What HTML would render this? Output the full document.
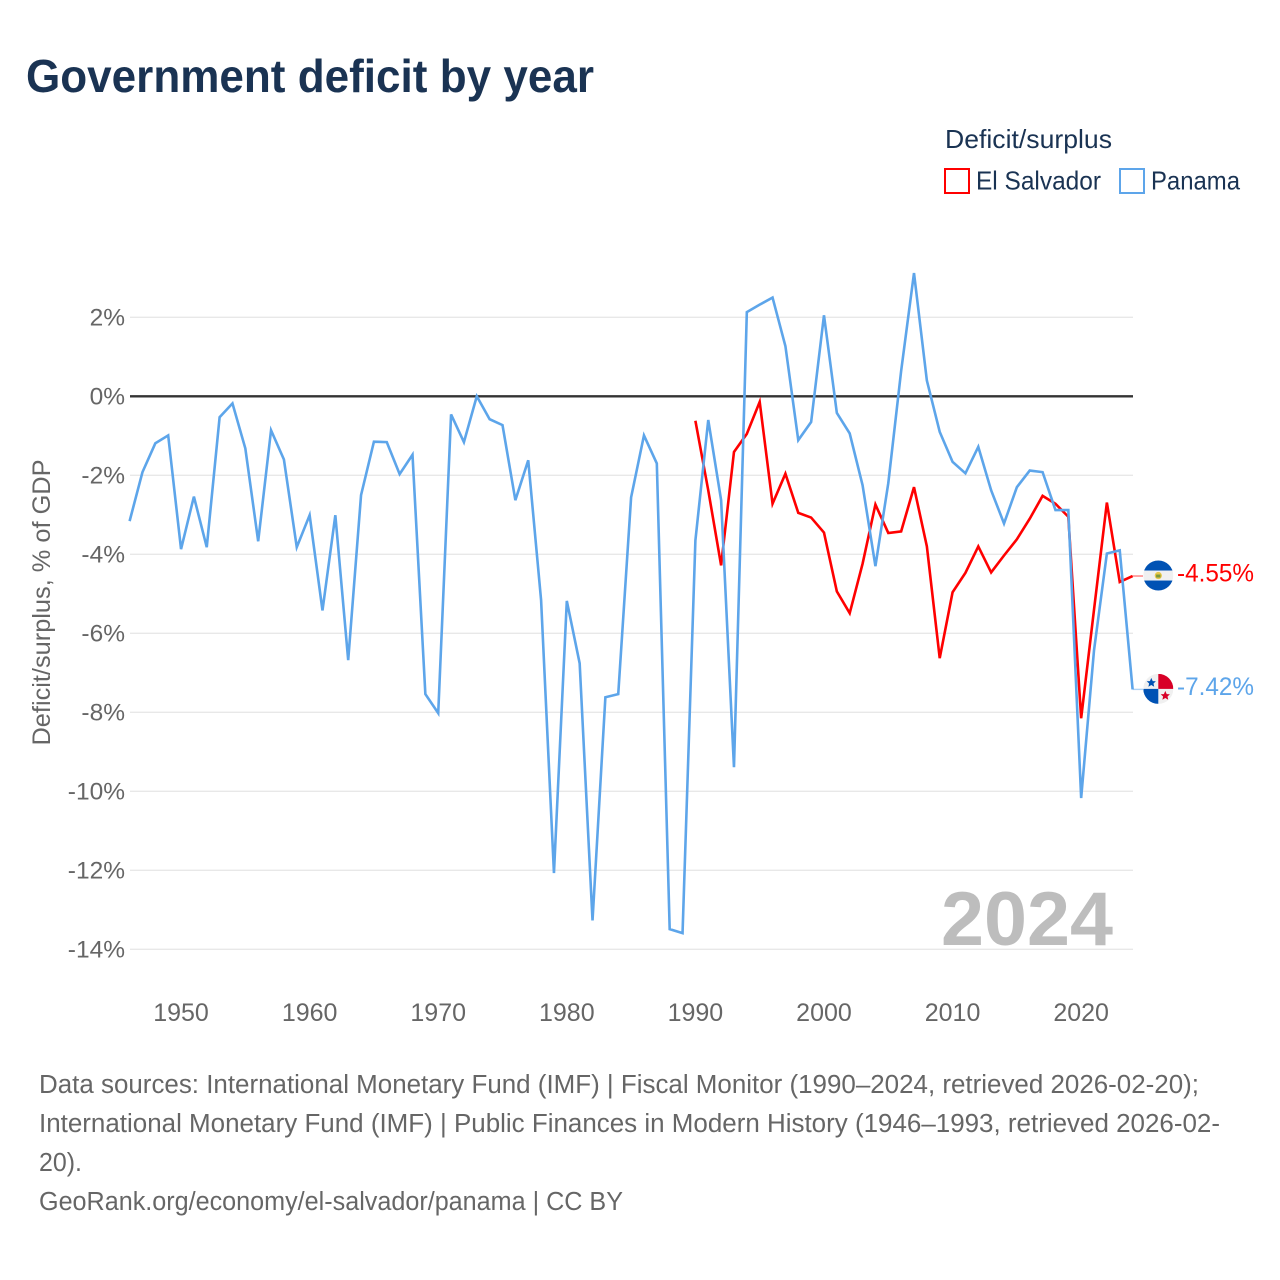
<!DOCTYPE html>
<html lang="en">
<head>
<meta charset="utf-8">
<title>Government deficit by year</title>
<style>
html,body{margin:0;padding:0;background:#fff;}
svg{display:block;font-family:"Liberation Sans",sans-serif;}
</style>
</head>
<body>
<svg id="chart" xmlns="http://www.w3.org/2000/svg" width="1280" height="1280" viewBox="0 0 1280 1280">
  <text x="26" y="92" font-size="46" font-weight="700" fill="#1a3353" textLength="568" lengthAdjust="spacingAndGlyphs">Government deficit by year</text>

  <g>
    <text x="945" y="148" font-size="26" fill="#1a3353" textLength="167" lengthAdjust="spacingAndGlyphs">Deficit/surplus</text>
    <g>
      <rect x="945" y="169" width="24" height="24" fill="#fff" stroke="#ff0000" stroke-width="2"/>
      <text x="976" y="189.5" font-size="26" fill="#1a3353" textLength="125" lengthAdjust="spacingAndGlyphs">El Salvador</text>
    </g>
    <g>
      <rect x="1120" y="169" width="24" height="24" fill="#fff" stroke="#5da5ea" stroke-width="2"/>
      <text x="1151" y="189.5" font-size="26" fill="#1a3353" textLength="89" lengthAdjust="spacingAndGlyphs">Panama</text>
    </g>
  </g>

  <text transform="translate(50,602.5) rotate(-90)" text-anchor="middle" font-size="25" fill="#666" textLength="286" lengthAdjust="spacingAndGlyphs">Deficit/surplus, % of GDP</text>

  <g id="grid"></g>
  <g id="y-ticks"></g>
  <g id="x-ticks"></g>

  <text x="941" y="945" font-size="76" font-weight="700" fill="#bdbdbd" textLength="172" lengthAdjust="spacingAndGlyphs">2024</text>

  <g id="series"></g>

  <g id="flag-sv">
    <clipPath id="clip-sv"><circle cx="0" cy="0" r="15"/></clipPath>
    <g clip-path="url(#clip-sv)">
      <rect x="-15" y="-15" width="30" height="30" fill="#f0f0f0"/>
      <rect x="-15" y="-15" width="30" height="10" fill="#0052b4"/>
      <rect x="-15" y="5" width="30" height="10" fill="#0052b4"/>
      <circle cx="0" cy="0" r="3.6" fill="#e8c84a"/>
      <rect x="-2.2" y="-1" width="4.4" height="3" fill="#7d9a3c"/>
    </g>
  </g>
  <text id="label-sv" x="1177" font-size="25" fill="#ff0000" textLength="77" lengthAdjust="spacingAndGlyphs"></text>

  <g id="flag-pa">
    <clipPath id="clip-pa"><circle cx="0" cy="0" r="15"/></clipPath>
    <g clip-path="url(#clip-pa)">
      <rect x="-15" y="-15" width="30" height="30" fill="#f0f0f0"/>
      <rect x="0" y="-15" width="15" height="15" fill="#d80027"/>
      <rect x="-15" y="0" width="15" height="15" fill="#0052b4"/>
      <polygon points="-7,-11 -5.6,-7.8 -2.4,-7.6 -4.8,-5.4 -4.1,-2.2 -7,-3.9 -9.9,-2.2 -9.2,-5.4 -11.6,-7.6 -8.4,-7.8" fill="#0052b4"/>
      <polygon points="7,2 8.4,5.2 11.6,5.4 9.2,7.6 9.9,10.8 7,9.1 4.1,10.8 4.8,7.6 2.4,5.4 5.6,5.2" fill="#d80027"/>
    </g>
  </g>
  <text id="label-pa" x="1177" font-size="25" fill="#5da5ea" textLength="77" lengthAdjust="spacingAndGlyphs"></text>

  <g font-size="25.5" fill="#666">
    <text x="39" y="1093" textLength="1160" lengthAdjust="spacingAndGlyphs">Data sources: International Monetary Fund (IMF) | Fiscal Monitor (1990–2024, retrieved 2026-02-20);</text>
    <text x="39" y="1132" textLength="1181" lengthAdjust="spacingAndGlyphs">International Monetary Fund (IMF) | Public Finances in Modern History (1946–1993, retrieved 2026-02-</text>
    <text x="39" y="1171" textLength="43" lengthAdjust="spacingAndGlyphs">20).</text>
    <text x="39" y="1210" textLength="584" lengthAdjust="spacingAndGlyphs">GeoRank.org/economy/el-salvador/panama | CC BY</text>
  </g>
</svg>

<script>
const years = [
  1946,1947,1948,1949,
  1950,1951,1952,1953,1954,1955,1956,1957,1958,1959,
  1960,1961,1962,1963,1964,1965,1966,1967,1968,1969,
  1970,1971,1972,1973,1974,1975,1976,1977,1978,1979,
  1980,1981,1982,1983,1984,1985,1986,1987,1988,1989,
  1990,1991,1992,1993,1994,1995,1996,1997,1998,1999,
  2000,2001,2002,2003,2004,2005,2006,2007,2008,2009,
  2010,2011,2012,2013,2014,2015,2016,2017,2018,2019,
  2020,2021,2022,2023,2024
];
const panamaValues = [
  -3.16,-1.92,-1.19,-0.99,
  -3.87,-2.54,-3.82,-0.53,-0.18,-1.32,-3.67,-0.86,-1.60,-3.82,
  -3.01,-5.42,-3.01,-6.68,-2.50,-1.15,-1.16,-1.97,-1.48,-7.54,
  -8.02,-0.46,-1.16,0.00,-0.58,-0.73,-2.63,-1.62,-5.16,-12.07,
  -5.18,-6.76,-13.27,-7.62,-7.54,-2.56,-0.99,-1.70,-13.49,-13.59,
  -3.65,-0.60,-2.63,-9.39,2.13,2.32,2.50,1.27,-1.11,-0.65,
  2.05,-0.42,-0.94,-2.25,-4.30,-2.20,0.64,3.12,0.40,-0.90,
  -1.66,-1.95,-1.28,-2.38,-3.22,-2.30,-1.88,-1.92,-2.88,-2.88,
  -10.17,-6.43,-3.98,-3.90,-7.42
];
const elSalvadorValues = [
  null,null,null,null,
  null,null,null,null,null,null,null,null,null,null,
  null,null,null,null,null,null,null,null,null,null,
  null,null,null,null,null,null,null,null,null,null,
  null,null,null,null,null,null,null,null,null,null,
  -0.62,-2.38,-4.28,-1.41,-0.95,-0.14,-2.72,-1.96,-2.95,-3.07,
  -3.45,-4.94,-5.49,-4.24,-2.74,-3.46,-3.42,-2.30,-3.80,-6.63,
  -4.96,-4.47,-3.80,-4.46,-4.03,-3.62,-3.10,-2.52,-2.72,-3.05,
  -8.15,-5.40,-2.69,-4.70,-4.55
];
const yTickValues = [2,0,-2,-4,-6,-8,-10,-12,-14];
const yTickLabels = ["2%","0%","-2%","-4%","-6%","-8%","-10%","-12%","-14%"];
const xTickValues = [1950,1960,1970,1980,1990,2000,2010,2020];
const xTickLabels = ["1950","1960","1970","1980","1990","2000","2010","2020"];

const SVG_NS = "http://www.w3.org/2000/svg";
const xScale = function (year) { return 129.6 + (year - 1946) * (1003 / 78); };
const yScale = function (value) { return 396.3 - value * 39.5; };

const gridGroup = document.getElementById("grid");
const yTickGroup = document.getElementById("y-ticks");
const xTickGroup = document.getElementById("x-ticks");
const seriesGroup = document.getElementById("series");

yTickValues.forEach(function (value, i) {
  const line = document.createElementNS(SVG_NS, "line");
  
  
  line.setAttribute("x1", 130);
  line.setAttribute("x2", 1133);
  line.setAttribute("y1", yScale(value));
  line.setAttribute("y2", yScale(value));
  line.setAttribute("stroke", value === 0 ? "#333333" : "#e8e8e8");
  line.setAttribute("stroke-width", value === 0 ? 2.4 : 1.4);
  gridGroup.appendChild(line);

  const label = document.createElementNS(SVG_NS, "text");
  
  
  label.setAttribute("x", 125);
  label.setAttribute("y", yScale(value) + 8);
  label.setAttribute("text-anchor", "end");
  label.setAttribute("font-size", "24.5");
  label.setAttribute("fill", "#666");
  label.textContent = yTickLabels[i];
  yTickGroup.appendChild(label);
});

xTickValues.forEach(function (year, i) {
  const label = document.createElementNS(SVG_NS, "text");
  
  
  label.setAttribute("x", xScale(year));
  label.setAttribute("y", 1021);
  label.setAttribute("text-anchor", "middle");
  label.setAttribute("font-size", "25");
  label.setAttribute("fill", "#666");
  label.textContent = xTickLabels[i];
  xTickGroup.appendChild(label);
});

function linePath(values) {
  let d = "";
  values.forEach(function (value, i) {
    if (value === null) { return; }
    d += (d === "" ? "M" : "L") + xScale(years[i]).toFixed(2) + " " + yScale(value).toFixed(2);
  });
  return d;
}

const panamaLine = document.createElementNS(SVG_NS, "path");


panamaLine.setAttribute("d", linePath(panamaValues));
panamaLine.setAttribute("fill", "none");
panamaLine.setAttribute("stroke", "#5da5ea");
panamaLine.setAttribute("stroke-width", "2.6");
panamaLine.setAttribute("stroke-linejoin", "miter");
panamaLine.setAttribute("stroke-miterlimit", "4");

const salvadorLine = document.createElementNS(SVG_NS, "path");


salvadorLine.setAttribute("d", linePath(elSalvadorValues));
salvadorLine.setAttribute("fill", "none");
salvadorLine.setAttribute("stroke", "#ff0000");
salvadorLine.setAttribute("stroke-width", "2.6");
salvadorLine.setAttribute("stroke-linejoin", "miter");
salvadorLine.setAttribute("stroke-miterlimit", "4");

seriesGroup.appendChild(salvadorLine);
seriesGroup.appendChild(panamaLine);

const lastSv = elSalvadorValues[elSalvadorValues.length - 1];
const lastPa = panamaValues[panamaValues.length - 1];

const connectorSv = document.createElementNS(SVG_NS, "line");


connectorSv.setAttribute("x1", xScale(2024));
connectorSv.setAttribute("x2", 1143);
connectorSv.setAttribute("y1", yScale(lastSv));
connectorSv.setAttribute("y2", yScale(lastSv));
connectorSv.setAttribute("stroke", "#ff0000");
connectorSv.setAttribute("stroke-opacity", "0.5");
connectorSv.setAttribute("stroke-width", "1.4");
seriesGroup.appendChild(connectorSv);

const connectorPa = document.createElementNS(SVG_NS, "line");


connectorPa.setAttribute("x1", xScale(2024));
connectorPa.setAttribute("x2", 1143);
connectorPa.setAttribute("y1", yScale(lastPa));
connectorPa.setAttribute("y2", yScale(lastPa));
connectorPa.setAttribute("stroke", "#5da5ea");
connectorPa.setAttribute("stroke-opacity", "0.5");
connectorPa.setAttribute("stroke-width", "1.4");
seriesGroup.appendChild(connectorPa);

document.getElementById("flag-sv").setAttribute("transform", "translate(1158.3," + (yScale(lastSv) - 0.5) + ")");
document.getElementById("flag-pa").setAttribute("transform", "translate(1158.3," + (yScale(lastPa) - 0.5) + ")");
const labelSv = document.getElementById("label-sv");
labelSv.setAttribute("y", yScale(lastSv) + 5.5);
labelSv.textContent = lastSv.toFixed(2) + "%";
const labelPa = document.getElementById("label-pa");
labelPa.setAttribute("y", yScale(lastPa) + 5.5);
labelPa.textContent = lastPa.toFixed(2) + "%";
</script>
</body>
</html>
